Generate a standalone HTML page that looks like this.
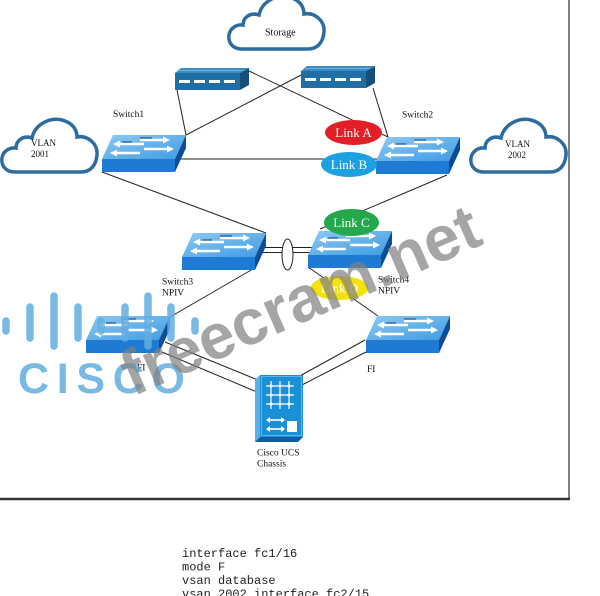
<!DOCTYPE html>
<html><head><meta charset="utf-8"><style>html,body{margin:0;padding:0;background:#fff;}svg{display:block}</style></head>
<body>
<svg width="600" height="596" viewBox="0 0 600 596" xmlns="http://www.w3.org/2000/svg">
<defs>
<linearGradient id="tg" x1="0" y1="0" x2="1" y2="1"><stop offset="0" stop-color="#8ccaf3"/><stop offset="1" stop-color="#3f9be3"/></linearGradient>
<g id="sw">
  <polygon points="11,0 84,0 73,24 0,24" fill="url(#tg)"/>
  <polygon points="0,24 73,24 73,37 0,37" fill="#1f7ad4"/>
  <polygon points="73,24 84,0 84,13 73,37" fill="#0c4d96"/>
  <line x1="42" y1="9" x2="17" y2="9" stroke="#fff" stroke-width="2.6"/>
  <polygon points="11,9 18,5.5 18,12.5" fill="#fff"/>
  <line x1="38" y1="5" x2="62" y2="5" stroke="#fff" stroke-width="2.6"/>
  <polygon points="68,5 61,1.5 61,8.5" fill="#fff"/>
  <line x1="38" y1="18" x2="14" y2="18" stroke="#fff" stroke-width="2.6"/>
  <polygon points="8,18 15,14.5 15,21.5" fill="#fff"/>
  <line x1="42" y1="14" x2="66" y2="14" stroke="#fff" stroke-width="2.6"/>
  <polygon points="72,14 65,10.5 65,17.5" fill="#fff"/>
  <line x1="20" y1="7" x2="30" y2="7" stroke="#0c3d70" stroke-width="1"/>
  <line x1="38" y1="3" x2="50" y2="3" stroke="#0c3d70" stroke-width="1"/>
</g>
<g id="st">
  <polygon points="0,5 6,0 74,0 65,5" fill="#3c8cc2"/>
  <line x1="4" y1="2.5" x2="70" y2="2.5" stroke="#6fb0dc" stroke-width="1"/>
  <rect x="0" y="5" width="65" height="17" fill="#1f6ea6"/>
  <polygon points="65,5 74,0 74,17 65,22" fill="#164f7c"/>
  <rect x="4" y="12" width="11" height="3" fill="#fff"/>
  <rect x="19" y="12" width="11" height="3" fill="#fff"/>
  <rect x="34" y="12" width="11" height="3" fill="#fff"/>
  <rect x="49" y="12" width="11" height="3" fill="#fff"/>
</g>
<path id="cl" d="M 14 55 C 4 55 0 48 1 41 C 2 34 9 30 15 31 C 15 23 23 18 31 21 C 34 7 49 0 61 3 C 72 6 76 13 76 20 C 87 18 97 27 96 38 C 95 49 89 55 80 55 Z" fill="#fff" stroke="#2e6c9e" stroke-width="3.5"/>
</defs>

<!-- frame -->
<line x1="569" y1="0" x2="569" y2="499" stroke="#555" stroke-width="1.5"/>
<line x1="0" y1="499" x2="570" y2="499" stroke="#333" stroke-width="2.5"/>

<!-- clouds -->
<use href="#cl" transform="translate(228,-6)"/>
<use href="#cl" transform="translate(1,117)"/>
<use href="#cl" transform="translate(470,117)"/>

<!-- connectors -->
<g stroke="#222" stroke-width="1" fill="none">
  <line x1="177" y1="90" x2="186" y2="135"/>
  <line x1="249" y1="71" x2="388" y2="137"/>
  <line x1="303" y1="74" x2="186" y2="135"/>
  <line x1="373" y1="88" x2="388" y2="137"/>
  <line x1="178" y1="159" x2="377" y2="159"/>
  <line x1="102" y1="172" x2="266" y2="233"/>
  <line x1="447" y1="175" x2="320" y2="229"/>
  <line x1="262" y1="247.5" x2="312" y2="247.5"/>
  <line x1="262" y1="252.5" x2="312" y2="252.5"/>
  <line x1="253" y1="269" x2="170" y2="317"/>
  <line x1="308" y1="267" x2="378" y2="316"/>
  <line x1="165" y1="342" x2="258" y2="380"/>
  <line x1="162" y1="352" x2="257" y2="392"/>
  <line x1="365" y1="340" x2="298" y2="377"/>
  <line x1="366" y1="352" x2="300" y2="386"/>
</g>
<ellipse cx="287.5" cy="254.5" rx="5.5" ry="15.5" fill="#fff" stroke="#222" stroke-width="1"/>

<!-- storage devices -->
<use href="#st" transform="translate(175,68)"/>
<use href="#st" transform="translate(301,66)"/>

<!-- switches -->
<use href="#sw" transform="translate(102,135)"/>
<use href="#sw" transform="translate(376,137)"/>
<use href="#sw" transform="translate(182,233)"/>
<use href="#sw" transform="translate(308,231)"/>
<use href="#sw" transform="translate(86,316)"/>
<use href="#sw" transform="translate(366,316)"/>

<!-- UCS chassis -->
<polygon points="255,380 260,375 260,437 255,442" fill="#5ab0e6"/>
<polygon points="255,442 260,437 303,437 298,442" fill="#0f5d9e"/>
<rect x="260" y="375" width="43" height="62" fill="#1c90d6"/>
<rect x="261.5" y="376.5" width="40" height="59" fill="none" stroke="#6cc0ee" stroke-width="0.8"/>
<g stroke="#fff" stroke-width="1.2">
  <line x1="271" y1="381" x2="271" y2="409"/>
  <line x1="280" y1="381" x2="280" y2="409"/>
  <line x1="289" y1="381" x2="289" y2="409"/>
  <line x1="266" y1="386" x2="294" y2="386"/>
  <line x1="266" y1="395" x2="294" y2="395"/>
  <line x1="266" y1="404" x2="294" y2="404"/>
  <line x1="269" y1="420" x2="282" y2="420" stroke-width="1.6"/>
  <line x1="269" y1="429" x2="282" y2="429" stroke-width="1.6"/>
</g>
<g fill="#fff">
  <circle cx="271" cy="386" r="1.5"/><circle cx="280" cy="386" r="1.5"/><circle cx="289" cy="386" r="1.5"/>
  <circle cx="271" cy="395" r="1.5"/><circle cx="280" cy="395" r="1.5"/><circle cx="289" cy="395" r="1.5"/>
  <circle cx="271" cy="404" r="1.5"/><circle cx="280" cy="404" r="1.5"/><circle cx="289" cy="404" r="1.5"/>
  <polygon points="266,420 270,417 270,423"/><polygon points="285,420 281,417 281,423"/>
  <polygon points="266,429 270,426 270,432"/><polygon points="285,429 281,426 281,432"/>
  <rect x="287" y="421" width="10" height="11"/>
</g>

<!-- link ellipses -->
<ellipse cx="353.5" cy="132.5" rx="28.5" ry="12.5" fill="#e21f26"/>
<ellipse cx="349" cy="164.5" rx="28" ry="12.5" fill="#1ba1e2"/>
<ellipse cx="351.5" cy="222.5" rx="27.5" ry="13.5" fill="#23a84c"/>
<ellipse cx="339.5" cy="288" rx="29" ry="12" fill="#f3e30a"/>
<g font-family="'Liberation Serif', serif" font-size="13" fill="#fff" text-anchor="middle">
  <text x="353.5" y="137">Link A</text>
  <text x="349" y="169">Link B</text>
  <text x="351.5" y="227">Link C</text>
  <text x="339.5" y="292.5">Link D</text>
</g>

<!-- labels -->
<g font-family="'Liberation Serif', serif" font-size="9.5" fill="#111">
  <text x="265" y="35.5" font-size="10">Storage</text>
  <text x="113" y="117">Switch1</text>
  <text x="402" y="117.5">Switch2</text>
  <text x="31" y="146" font-size="9">VLAN</text>
  <text x="31" y="157" font-size="9">2001</text>
  <text x="505" y="147" font-size="9">VLAN</text>
  <text x="508" y="158" font-size="9">2002</text>
  <text x="162" y="284.5">Switch3</text>
  <text x="162" y="295.5">NPIV</text>
  <text x="378" y="282.5">Switch4</text>
  <text x="378" y="293.5">NPIV</text>
  <text x="137" y="370.5">FI</text>
  <text x="367" y="372">FI</text>
  <text x="257" y="455.5">Cisco UCS</text>
  <text x="257" y="466.5">Chassis</text>
</g>

<!-- cisco watermark -->
<g opacity="0.85" stroke="#62aee0" stroke-width="7.5" stroke-linecap="round">
  <line x1="6" y1="321" x2="6" y2="331"/>
  <line x1="30" y1="307" x2="30" y2="338"/>
  <line x1="54" y1="296" x2="54" y2="346"/>
  <line x1="78" y1="307" x2="78" y2="338"/>
  <line x1="101" y1="321" x2="101" y2="331"/>
  <line x1="125" y1="307" x2="125" y2="338"/>
  <line x1="148" y1="296" x2="148" y2="346"/>
  <line x1="171" y1="307" x2="171" y2="338"/>
  <line x1="195" y1="321" x2="195" y2="331"/>
</g>
<text x="18" y="393" font-family="'Liberation Sans', sans-serif" font-weight="bold" font-size="43" fill="#62aee0" opacity="0.85" textLength="167" lengthAdjust="spacing">CISCO</text>

<!-- freecram watermark -->
<text x="309" y="320" transform="rotate(-23.5 309 320)" text-anchor="middle" font-family="'Liberation Sans', sans-serif" font-weight="bold" font-size="64" fill="#808080" opacity="0.7">freecram.net</text>

<!-- code -->
<g font-family="'Liberation Mono', monospace" font-size="12" fill="#222">
  <text x="182" y="557">interface fc1/16</text>
  <text x="182" y="570.5">mode F</text>
  <text x="182" y="584">vsan database</text>
  <text x="182" y="597.5">vsan 2002 interface fc2/15</text>
</g>
</svg>
</body></html>
